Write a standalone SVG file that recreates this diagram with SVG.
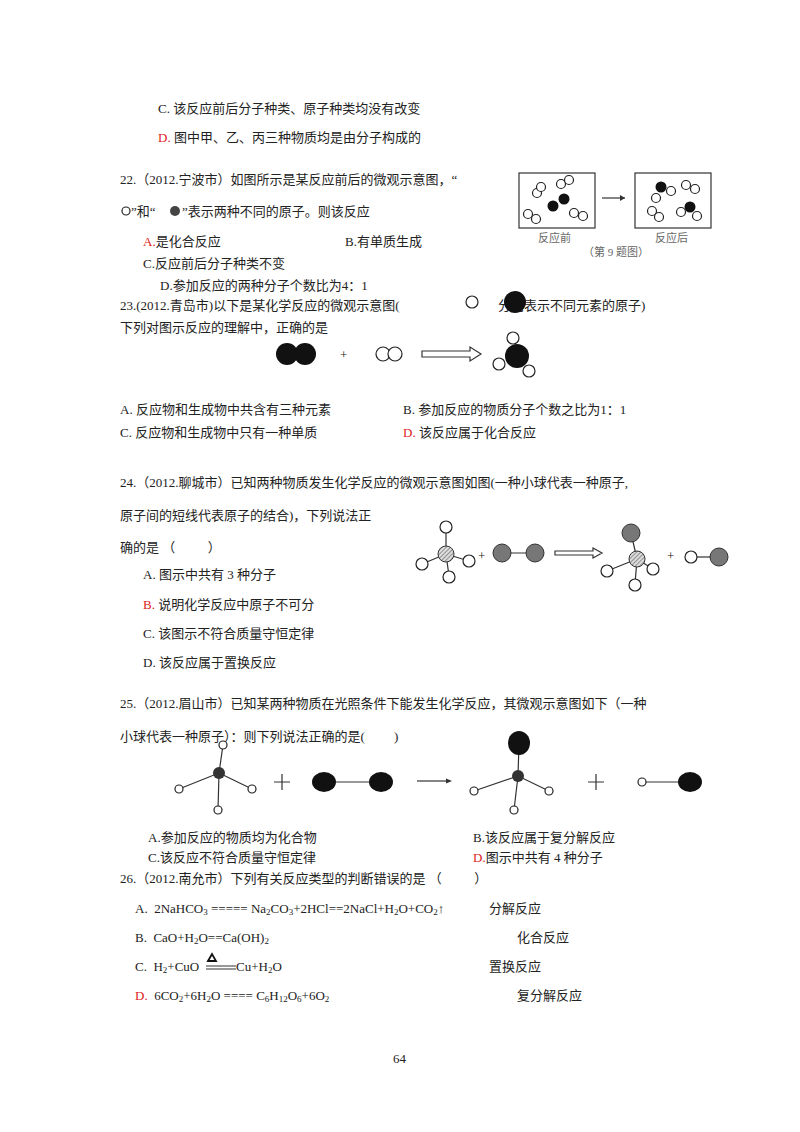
<svg xmlns="http://www.w3.org/2000/svg" width="800" height="1132" viewBox="0 0 800 1132" xml:space="preserve">
<style>
text{font-family:"Liberation Serif","Noto Sans CJK SC",serif;font-size:13px;fill:#222;white-space:pre}
.r{fill:#e02020}
.s{font-size:9px}
.w{fill:#fff;stroke:#222;stroke-width:1.2}
.b{fill:#111}
.g{fill:#777;stroke:#333;stroke-width:1}
.l{stroke:#333;stroke-width:1.2;fill:none}
.cap{font-size:11px;fill:#666}
</style>
<rect width="800" height="1132" fill="#fff"/>
<text x="158" y="113">C. 该反应前后分子种类、原子种类均没有改变</text>
<text x="158" y="142"><tspan class="r">D.</tspan> 图中甲、乙、丙三种物质均是由分子构成的</text>

<text x="120" y="184">22.（2012.宁波市）如图所示是某反应前后的微观示意图，“</text>
<circle cx="126" cy="211" r="4" class="w"/>
<text x="131" y="216">”和“</text>
<circle cx="175" cy="211" r="5" fill="#444"/>
<text x="182" y="216">”表示两种不同的原子。则该反应</text>
<text x="143" y="246"><tspan class="r">A.</tspan>是化合反应</text>
<text x="345" y="246">B.有单质生成</text>
<text x="143" y="268">C.反应前后分子种类不变</text>
<text x="160" y="290">D.参加反应的两种分子个数比为4：1</text>
<g id="fig22">
<rect x="519" y="173" width="76" height="55" class="l"/>
<rect x="635" y="173" width="76" height="55" class="l"/>
<path d="M602 198H625" class="l"/><path d="M625 198l-5-3v6z" fill="#333"/>
<g class="w" stroke-width="1">
<circle cx="537" cy="193" r="4.5"/><circle cx="541" cy="187" r="4.5"/>
<circle cx="561" cy="184" r="4.5"/><circle cx="569" cy="180" r="4.5"/>
<circle cx="528" cy="214" r="4.5"/><circle cx="536" cy="219" r="4.5"/>
<circle cx="574" cy="213" r="4.5"/><circle cx="583" cy="216" r="4.5"/>
<circle cx="671" cy="191" r="4.5"/><circle cx="656" cy="198" r="4.5"/>
<circle cx="686" cy="185" r="4.5"/><circle cx="695" cy="189" r="4.5"/>
<circle cx="652" cy="211" r="4.5"/><circle cx="659" cy="217" r="4.5"/>
<circle cx="681" cy="212" r="4.5"/><circle cx="697" cy="216" r="4.5"/>
</g>
<circle cx="553" cy="206" r="5.5" class="b"/><circle cx="564" cy="199" r="5.5" class="b"/>
<circle cx="661" cy="187" r="5.5" class="b"/><circle cx="690" cy="207" r="5.5" class="b"/>
<text x="538" y="242" class="cap">反应前</text>
<text x="655" y="242" class="cap">反应后</text>
<text x="583" y="256" class="cap" font-size="9">（第 9 题图）</text>
</g>

<text x="120" y="310">23.(2012.青岛市)以下是某化学反应的微观示意图(</text>
<circle cx="472" cy="302" r="6" class="w"/>
<text x="498" y="310">分别表示不同元素的原子)</text>
<circle cx="515" cy="302" r="11" class="b"/>
<text x="120" y="332">下列对图示反应的理解中，正确的是</text>
<g id="fig23">
<circle cx="287" cy="354" r="11" class="b"/><circle cx="305" cy="354" r="11" class="b"/>
<text x="340" y="359">+</text>
<circle cx="383" cy="354" r="7" class="w"/><circle cx="395" cy="354" r="7" class="w"/>
<path d="M422 351H470V347L481 354L470 361V357H422Z" class="l"/>
<circle cx="513" cy="338" r="6" class="w"/>
<circle cx="517" cy="356" r="12" class="b"/>
<circle cx="499" cy="364" r="6" class="w"/><circle cx="529" cy="371" r="6" class="w"/>
</g>
<text x="120" y="414">A. 反应物和生成物中共含有三种元素</text>
<text x="403" y="414">B. 参加反应的物质分子个数之比为1：1</text>
<text x="120" y="437">C. 反应物和生成物中只有一种单质</text>
<text x="403" y="437"><tspan class="r">D.</tspan> 该反应属于化合反应</text>

<text x="120" y="487">24.（2012.聊城市）已知两种物质发生化学反应的微观示意图如图(一种小球代表一种原子,</text>
<text x="120" y="520">原子间的短线代表原子的结合)，下列说法正</text>
<text x="120" y="552">确的是 （          ）</text>
<text x="143" y="579">A. 图示中共有 3 种分子</text>
<text x="143" y="609"><tspan class="r">B.</tspan> 说明化学反应中原子不可分</text>
<text x="143" y="638">C. 该图示不符合质量守恒定律</text>
<text x="143" y="667">D. 该反应属于置换反应</text>
<defs><pattern id="hatch" width="3" height="3" patternUnits="userSpaceOnUse" patternTransform="rotate(45)"><rect width="3" height="3" fill="#ddd"/><path d="M0 0V3" stroke="#444" stroke-width="1"/></pattern></defs>
<g id="fig24">
<path d="M446 527V554M446 554L422 564M446 554L469 561M446 554L449 576" class="l" stroke-width="1"/>
<circle cx="446" cy="527" r="6" class="w"/><circle cx="422" cy="564" r="6" class="w"/>
<circle cx="469" cy="561" r="6" class="w"/><circle cx="449" cy="577" r="6" class="w"/>
<circle cx="446" cy="554" r="8" fill="url(#hatch)" stroke="#333"/>
<text x="478" y="560" font-size="10">+</text>
<path d="M502 553H535" class="l" stroke-width="1"/>
<circle cx="502" cy="553" r="9" class="g"/><circle cx="535" cy="553" r="9" class="g"/>
<path d="M555 551H593V548L602 553L593 558V555H555Z" class="l" stroke-width="1"/>
<path d="M631 533L637 559M637 559L607 571M637 559L653 569M637 559L635 584" class="l" stroke-width="1"/>
<circle cx="607" cy="571" r="6" class="w"/><circle cx="653" cy="569" r="6" class="w"/>
<circle cx="635" cy="585" r="6" class="w"/>
<circle cx="637" cy="559" r="8" fill="url(#hatch)" stroke="#333"/>
<circle cx="631" cy="533" r="9" class="g"/>
<text x="667" y="560" font-size="10">+</text>
<path d="M691 557H719" class="l" stroke-width="1"/>
<circle cx="691" cy="557" r="6" class="w"/><circle cx="719" cy="557" r="9" class="g"/>
</g>

<text x="120" y="708">25.（2012.眉山市）已知某两种物质在光照条件下能发生化学反应，其微观示意图如下（一种</text>
<text x="120" y="741">小球代表一种原子）：则下列说法正确的是(         )</text>
<g id="fig25">
<path d="M219 773L223 745M219 773L179 789M219 773L252 789M219 773L218 810" class="l" stroke-width="1"/>
<circle cx="223" cy="745" r="4" class="w" stroke-width="1"/><circle cx="179" cy="789" r="4" class="w" stroke-width="1"/>
<circle cx="252" cy="789" r="4" class="w" stroke-width="1"/><circle cx="218" cy="810" r="4" class="w" stroke-width="1"/>
<circle cx="219" cy="773" r="6" fill="#333"/>
<path d="M274 782H290M282 774V790" class="l" stroke-width="1"/>
<path d="M324 782H381" class="l" stroke-width="1.5"/>
<ellipse cx="324" cy="782" rx="12" ry="10" class="b"/><ellipse cx="381" cy="782" rx="12" ry="10" class="b"/>
<path d="M417 781H449" class="l" stroke-width="1.2"/><path d="M452 781l-6-2.5v5z" fill="#333"/>
<path d="M518 776L519 743M518 776L474 791M518 776L549 791M518 776L514 810" class="l" stroke-width="1"/>
<circle cx="474" cy="791" r="4" class="w" stroke-width="1"/><circle cx="549" cy="791" r="4" class="w" stroke-width="1"/>
<circle cx="514" cy="810" r="4" class="w" stroke-width="1"/>
<circle cx="518" cy="776" r="6" fill="#333"/>
<ellipse cx="519" cy="743" rx="11" ry="12" class="b"/>
<path d="M588 782H604M596 774V790" class="l" stroke-width="1"/>
<path d="M642 782H690" class="l" stroke-width="1"/>
<circle cx="642" cy="782" r="4" class="w" stroke-width="1"/>
<ellipse cx="690" cy="782" rx="12" ry="10" class="b"/>
</g>
<text x="148" y="842">A.参加反应的物质均为化合物</text>
<text x="473" y="842">B.该反应属于复分解反应</text>
<text x="148" y="862">C.该反应不符合质量守恒定律</text>
<text x="473" y="862"><tspan class="r">D.</tspan>图示中共有 4 种分子</text>

<text x="120" y="883">26.（2012.南允市）下列有关反应类型的判断错误的是 （          ）</text>
<text x="135" y="913">A.  2NaHCO<tspan class="s" dy="2">3</tspan><tspan dy="-2"> ===== Na</tspan><tspan class="s" dy="2">2</tspan><tspan dy="-2">CO</tspan><tspan class="s" dy="2">3</tspan><tspan dy="-2">+2HCl==2NaCl+H</tspan><tspan class="s" dy="2">2</tspan><tspan dy="-2">O+CO</tspan><tspan class="s" dy="2">2</tspan><tspan dy="-2">↑</tspan></text>
<text x="489" y="913">分解反应</text>
<text x="135" y="942">B.  CaO+H<tspan class="s" dy="2">2</tspan><tspan dy="-2">O==Ca(OH)</tspan><tspan class="s" dy="2">2</tspan></text>
<text x="517" y="942">化合反应</text>
<text x="135" y="971">C.  H<tspan class="s" dy="2">2</tspan><tspan dy="-2">+CuO</tspan></text>
<path d="M208 961L212 954L216 961Z" fill="none" stroke="#111" stroke-width="1.8"/>
<path d="M206 966H236M206 969H236" stroke="#333" stroke-width="1"/>
<text x="236" y="971">Cu+H<tspan class="s" dy="2">2</tspan><tspan dy="-2">O</tspan></text>
<text x="489" y="971">置换反应</text>
<text x="135" y="1000"><tspan class="r">D.</tspan>  6CO<tspan class="s" dy="2">2</tspan><tspan dy="-2">+6H</tspan><tspan class="s" dy="2">2</tspan><tspan dy="-2">O ==== C</tspan><tspan class="s" dy="2">6</tspan><tspan dy="-2">H</tspan><tspan class="s" dy="2">12</tspan><tspan dy="-2">O</tspan><tspan class="s" dy="2">6</tspan><tspan dy="-2">+6O</tspan><tspan class="s" dy="2">2</tspan></text>
<text x="517" y="1000">复分解反应</text>
<text x="393" y="1063">64</text>
</svg>
